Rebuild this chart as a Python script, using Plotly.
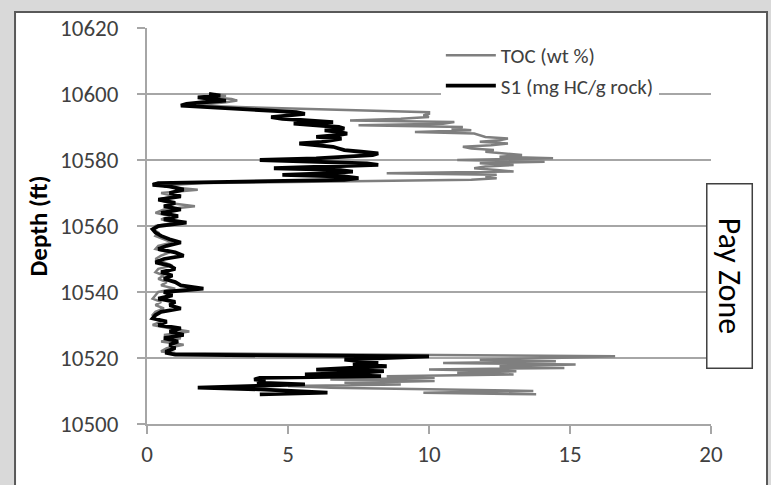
import plotly.graph_objects as go

# Depth samples (ft)
depth = [
    10600.0, 10599.5, 10599.0, 10598.5, 10598.0, 10597.5, 10597.0, 10596.5, 10596.0, 10595.5,
    10595.0, 10594.5, 10594.0, 10593.5, 10593.0, 10592.5, 10592.0, 10591.5, 10591.0, 10590.5,
    10590.0, 10589.5, 10589.0, 10588.5, 10588.0, 10587.5, 10587.0, 10586.5, 10586.0, 10585.5,
    10585.0, 10584.5, 10584.0, 10583.5, 10583.0, 10582.5, 10582.0, 10581.5, 10581.0, 10580.5,
    10580.0, 10579.5, 10579.0, 10578.5, 10578.0, 10577.5, 10577.0, 10576.5, 10576.0, 10575.5,
    10575.0, 10574.5, 10574.0, 10573.5, 10573.0, 10572.5, 10572.0,
    10571, 10570, 10569, 10568, 10567, 10566, 10565, 10564, 10563, 10562,
    10561, 10560, 10559, 10558, 10557, 10556, 10555, 10554, 10553, 10552,
    10551, 10550, 10549, 10548, 10547, 10546, 10545, 10544, 10543, 10542,
    10541, 10540, 10539, 10538, 10537, 10536, 10535, 10534, 10533, 10532,
    10531, 10530, 10529, 10528, 10527, 10526, 10525, 10524, 10523, 10522,
    10521.5, 10521.0, 10520.5, 10520.0, 10519.5, 10519.0, 10518.5, 10518.0, 10517.5, 10517.0,
    10516.5, 10516.0, 10515.5, 10515.0, 10514.5, 10514.0, 10513.5, 10513.0, 10512.5, 10512.0,
    10511.5, 10511.0, 10510.5, 10510.0, 10509.5, 10509.0,
]

# TOC (wt %)
toc = [
    2.4, 2.8, 2.3, 3.0, 3.2, 2.8, 2.2, 1.8, 3.5, 6.0,
    8.5, 10.0, 10.0, 9.8, 10.0, 9.0, 7.2, 10.9, 10.5, 7.5,
    11.2, 10.8, 11.5, 9.5, 11.6, 11.8, 12.0, 12.8, 12.5, 11.8,
    12.8, 12.2, 11.2, 11.5, 12.3, 12.0, 12.6, 13.3, 12.5, 14.4,
    11.0, 14.1, 11.8, 13.0, 12.0, 11.6, 12.4, 13.0, 8.5, 12.4,
    12.0, 12.4, 11.5, 7.5, 2.0, 1.0, 0.6,
    1.8, 0.5, 1.0, 0.4, 0.8, 1.7, 0.6, 0.3, 0.8, 0.5,
    1.0, 0.3, 0.2, 0.4, 0.3, 0.6, 0.9, 0.4, 0.3, 0.8,
    0.5, 0.3, 0.6, 0.9, 0.4, 0.3, 0.6, 0.4, 0.7, 0.5,
    1.0, 0.4, 0.3, 0.2, 0.5, 0.3, 0.6, 0.3, 0.2, 0.3,
    0.5, 0.2, 0.8, 1.5, 0.6, 1.2, 0.5, 1.3, 0.7, 0.5,
    1.0, 10.0, 16.6, 14.4, 11.8, 14.5, 10.5, 15.2, 12.5, 14.8,
    10.0, 13.1, 11.0, 13.0, 8.5, 10.2, 6.5, 10.2, 7.0, 9.0,
    5.0, 6.5, 10.5, 13.7, 9.8, 13.8,
]

# S1 (mg HC/g rock)
s1 = [
    2.2, 2.6, 1.8, 2.4, 2.8, 2.0, 1.4, 1.2, 2.2, 3.5,
    4.5, 5.3, 5.6, 5.0, 4.4, 4.8, 6.0, 6.6, 5.2, 6.3,
    6.8, 7.0, 6.3, 6.8, 7.1, 6.7, 6.0, 6.9, 6.6, 6.2,
    5.4, 6.2, 6.6, 6.8, 7.0, 7.6, 8.2, 8.0, 7.0, 6.0,
    4.0, 6.5, 7.8, 8.2, 6.5, 4.5, 6.8, 7.3, 6.5, 4.8,
    7.0, 7.5, 7.0, 4.0, 0.4, 0.2, 0.8,
    1.3, 0.8, 1.2, 0.4, 1.0, 0.6, 1.2, 0.5, 1.1, 0.6,
    1.4, 0.4, 0.2, 0.3, 0.5, 0.8, 1.2, 0.7, 0.4, 1.0,
    1.3, 0.6, 0.3, 0.8, 1.0, 0.5, 0.9, 0.6, 1.0, 1.2,
    2.0, 0.6, 0.9, 0.4, 1.0, 0.8, 1.2, 0.5, 0.3, 0.2,
    0.7, 0.4, 1.2, 0.8, 1.3, 0.6, 1.1, 0.8, 1.0, 0.7,
    0.7, 1.0, 10.0, 8.6, 7.0, 7.6, 8.2, 7.3, 8.5, 7.2,
    6.0, 8.4, 7.5, 5.6, 8.3, 4.0, 3.8, 4.2, 3.9, 5.6,
    3.9, 1.8, 4.0, 5.0, 6.4, 4.0,
]

x_ticks = [0, 5, 10, 15, 20]
y_ticks = [10500, 10520, 10540, 10560, 10580, 10600, 10620]

FONT = "Carlito, Liberation Sans, Arial, sans-serif"
AXIS_GRAY = "#a6a6a6"
TEXT_GRAY = "#404040"

fig = go.Figure()
fig.add_trace(go.Scatter(
    x=toc, y=depth, mode="lines", name="TOC (wt %)",
    line=dict(color="#7f7f7f", width=2.5),
))
fig.add_trace(go.Scatter(
    x=s1, y=depth, mode="lines", name="S1 (mg HC/g rock)",
    line=dict(color="#000000", width=3.8),
))

# white chart panel with dark border on grey page
fig.add_shape(type="rect", xref="paper", yref="paper",
              x0=-0.234, x1=1.0993, y0=-0.2, y1=1.0404,
              line=dict(color="#595959", width=2), fillcolor="white", layer="below")

fig.add_annotation(
    text="Pay Zone", xref="paper", yref="paper", x=1.0337, y=0.3737,
    xanchor="center", yanchor="middle",
    showarrow=False, textangle=90, font=dict(family=FONT, size=32, color="#000000"),
    bordercolor="#404040", borderwidth=1.5, borderpad=0, bgcolor="white",
    width=183, height=44,
)

fig.update_layout(
    width=771, height=485,
    margin=dict(l=147, r=60, t=28, b=61),
    paper_bgcolor="#d9d9d9",
    plot_bgcolor="white",
    font=dict(family=FONT, color=TEXT_GRAY),
    showlegend=True,
    legend=dict(
        x=0.521, y=0.982, xanchor="left", yanchor="top",
        bgcolor="white", borderwidth=0,
        font=dict(family=FONT, size=21, color=TEXT_GRAY),
        tracegroupgap=0, itemwidth=50,
    ),
    xaxis=dict(
        range=[0, 20], tickvals=x_ticks, showgrid=False, zeroline=False,
        showline=True, linecolor=AXIS_GRAY, linewidth=2,
        ticks="outside", ticklen=8, tickcolor=AXIS_GRAY, tickwidth=1.5,
        tickfont=dict(family=FONT, size=23, color=TEXT_GRAY),
        ticklabelstandoff=0,
    ),
    yaxis=dict(
        range=[10500, 10620], tickvals=y_ticks, tickformat="d", showgrid=True,
        gridcolor=AXIS_GRAY, gridwidth=1.5, zeroline=False,
        showline=True, linecolor=AXIS_GRAY, linewidth=2,
        ticks="outside", ticklen=8, tickcolor=AXIS_GRAY, tickwidth=1.5,
        tickfont=dict(family=FONT, size=23, color=TEXT_GRAY),
        ticklabelstandoff=14,
        title=dict(text="<b>Depth (ft)</b>", font=dict(family=FONT, size=25, color="#000000"),
                   standoff=5),
    ),
)

fig.write_html("out.html", config={"displayModeBar": False},
               post_script="document.body.style.margin='0';")
